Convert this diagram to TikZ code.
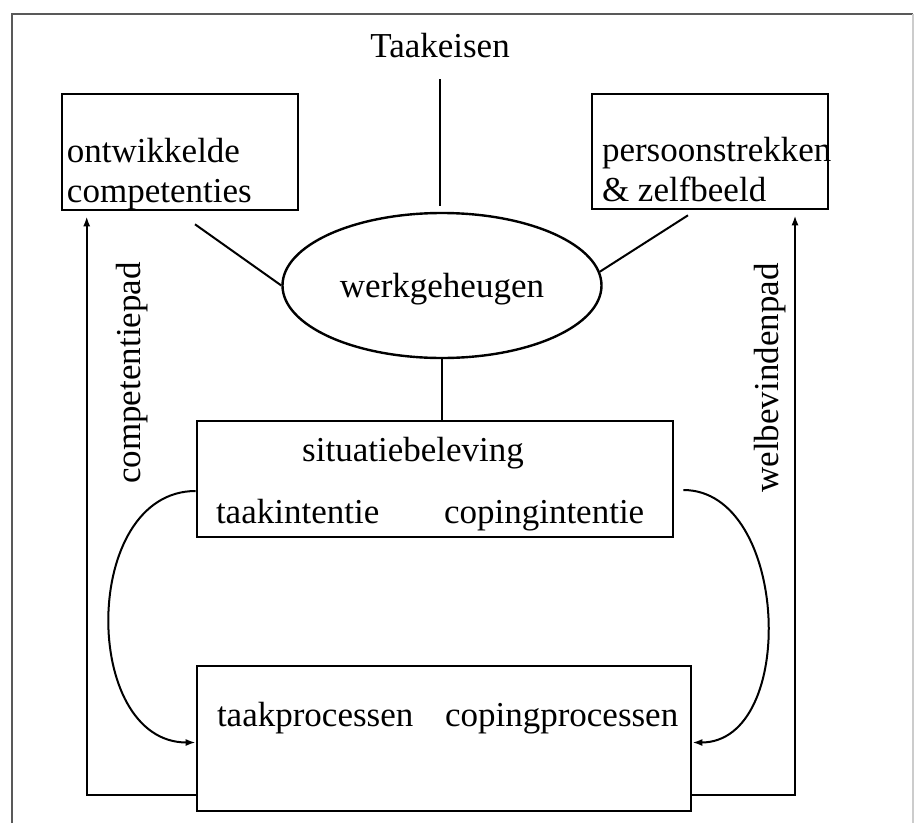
\documentclass[tikz,border=0pt]{standalone}
\usepackage{fontspec}
\setmainfont{Liberation Serif}
\usetikzlibrary{arrows.meta,positioning,shapes.geometric}

\begin{document}
\begin{tikzpicture}[x=0.5pt, y=-0.5pt, font=\fontsize{17.5}{20}\selectfont, line width=1pt, >={Latex[length=5pt,width=3.5pt]}]
\tikzset{
  box/.style={rectangle, draw, line width=1.3pt, inner sep=0pt},
  oval/.style={ellipse, draw, line width=1.2pt, inner sep=0pt, minimum width=159.5pt, minimum height=72.5pt, text depth=0pt},
  txt/.style={inner sep=0pt, align=left},
  padlabel/.style={inner sep=0pt, rotate=90, anchor=base}
}
\useasboundingbox (0,0) rectangle (917,825);
% frame
\draw[black!65] (12,823) |- (913,14);
\draw[black!20] (913,14) -- (913,823);
% boxes
\node[txt, anchor=base] (taak) at (440,57) {Taakeisen};
\node[box, minimum width=118pt, minimum height=58pt]   (comp) at (180,152) {};
\node[box, minimum width=118pt, minimum height=57.5pt] (pers) at (710,151.5) {};
\node[oval] (geh) at (442,285.5) {werkgeheugen};
\node[box, minimum width=238pt, minimum height=58pt]   (sit)  at (435,479) {};
\node[box, minimum width=247pt, minimum height=72.5pt] (proc) at (444,738.5) {};
% texts in the boxes
\node[txt, anchor=base west] (compt) at (66,202)  {ontwikkelde\\competenties};
\node[txt, anchor=base west] (perst) at (601,201) {persoonstrekken\\\& zelfbeeld};
\node[txt, anchor=base]      (sitt)  at (413,461) {situatiebeleving};
\node[txt, anchor=base west] (taint) at (215,523) {taakintentie};
\node[txt, anchor=base west] (coint) at (443,523) {copingintentie};
\node[txt, anchor=base west] (tapro) at (216,726) {taakprocessen};
\node[txt, anchor=base west] (copro) at (444,726) {copingprocessen};
\node[padlabel] (cpad) at (140,373) {competentiepad};
\node[padlabel] (wpad) at (778,378) {welbevindenpad};
% connectors
\draw[shorten <=10.5pt, shorten >=3pt] (taak.south) -- (taak.south |- geh.north);
\draw ([xshift=7.5pt,yshift=-6.5pt]comp.south) -- (geh.west);
\draw ([xshift=-11pt,yshift=-2.5pt]pers.south) -- (geh.5);
\draw (geh.south) -- (geh.south |- sit.north);
\draw[->] ([yshift=-6pt]sit.west) .. controls +(-115,0) and +(-115,0) .. ([yshift=-2pt]proc.west);
\draw[->] ([xshift=4.5pt,yshift=-5.5pt]sit.east) .. controls +(106,0) and +(106,0) .. ([yshift=-2pt]proc.east);
\draw[->, shorten >=2.5pt] ([yshift=-28pt]proc.west) -| ([xshift=13pt]comp.south west);
\draw[->, shorten >=2.5pt] ([yshift=-28pt]proc.east) -| ([xshift=42.5pt]pers.south);
\end{tikzpicture}
\end{document}
